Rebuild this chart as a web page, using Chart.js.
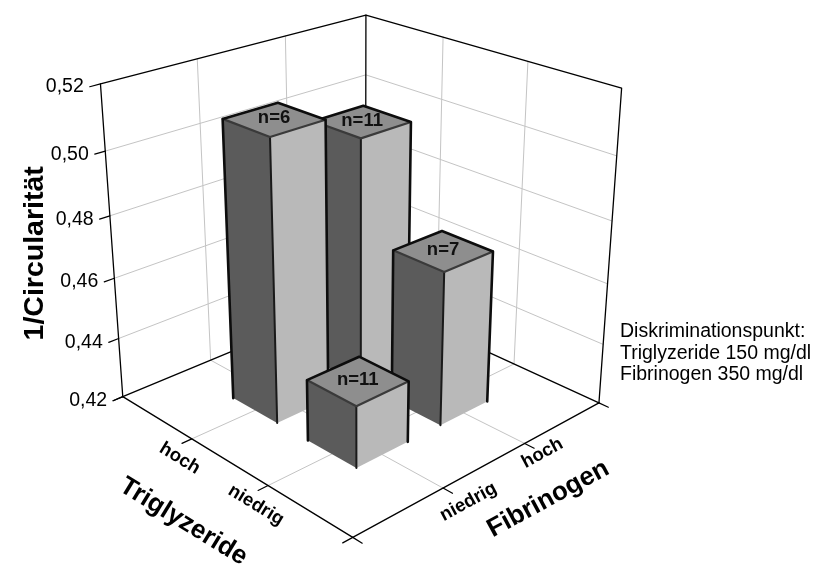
<!DOCTYPE html>
<html>
<head>
<meta charset="utf-8">
<script src="https://cdn.jsdelivr.net/npm/chart.js@4.4.1/dist/chart.umd.min.js"></script>
<style>
  html, body { margin: 0; padding: 0; background: #ffffff; }
  #chart { display: block; }
</style>
</head>
<body>
<canvas id="chart" width="816" height="566"></canvas>
<script>
// Group levels along the two floor axes
const triglyzerideLevels = ['hoch', 'niedrig'];
const fibrinogenLevels = ['niedrig', 'hoch'];

// One entry per column: its groups, mean 1/Circularität and group size
const barTriglyzeride = ['hoch', 'hoch', 'niedrig', 'niedrig'];
const barFibrinogen = ['niedrig', 'hoch', 'niedrig', 'hoch'];
const barValues = [0.510, 0.501, 0.440, 0.470];
const barCounts = [6, 11, 11, 7];

// Value axis
const valueTicks = [0.42, 0.44, 0.46, 0.48, 0.50, 0.52];
const valueTickLabels = ['0,42', '0,44', '0,46', '0,48', '0,50', '0,52'];

const valueTitle = '1/Circularität';
const triglyzerideTitle = 'Triglyzeride';
const fibrinogenTitle = 'Fibrinogen';
const noteLines = ['Diskriminationspunkt:', 'Triglyzeride 150 mg/dl', 'Fibrinogen 350 mg/dl'];

// Camera for the 3-D box: a = Triglyzeride depth (0 front .. 1 left),
// b = Fibrinogen depth (0 front .. 1 right), z = value fraction (0 floor .. 1 top)
const VIEW = { turn: 43.5, tilt: 24.2, distance: 4.43, height: 0.975, centerX: 360, centerY: 250, zoom: 352 };
const W = 816, H = 566;
const BAR_HALF = 0.1;
const TICK_LEN = 0.035;
const FONT = '"Liberation Sans", Arial, Helvetica, sans-serif';

function toCamera(a, b, z) {
  const t = VIEW.turn * Math.PI / 180, e = VIEW.tilt * Math.PI / 180;
  const X = b - 0.5, Z = a - 0.5, Y = (z - 0.5) * VIEW.height;
  const xr = X * Math.cos(t) - Z * Math.sin(t);
  const zr = X * Math.sin(t) + Z * Math.cos(t);
  const yu = Y * Math.cos(e) + zr * Math.sin(e);
  const zd = -Y * Math.sin(e) + zr * Math.cos(e);
  const f = VIEW.distance / (VIEW.distance + zd);
  return { x: xr * f, y: yu * f, depth: zd };
}

const slotA = i => 1 - (i + 1) / (triglyzerideLevels.length + 1);
const slotB = j => (j + 1) / (fibrinogenLevels.length + 1);

function pathOf(ctx, pts, close) {
  ctx.beginPath();
  ctx.moveTo(pts[0][0], pts[0][1]);
  for (let i = 1; i < pts.length; i++) ctx.lineTo(pts[i][0], pts[i][1]);
  if (close) ctx.closePath();
}
function fillPoly(ctx, pts, color) {
  pathOf(ctx, pts, true);
  ctx.fillStyle = color;
  ctx.fill();
}
function strokeLine(ctx, pts, color, width) {
  pathOf(ctx, pts, false);
  ctx.strokeStyle = color;
  ctx.lineWidth = width;
  ctx.lineJoin = 'round';
  ctx.lineCap = 'round';
  ctx.stroke();
}
function rotatedText(ctx, text, x, y, angle, font) {
  ctx.save();
  ctx.translate(x, y);
  ctx.rotate(angle);
  ctx.font = font;
  ctx.textAlign = 'center';
  ctx.textBaseline = 'middle';
  ctx.fillStyle = '#000';
  ctx.fillText(text, 0, 0);
  ctx.restore();
}

const columns3d = {
  id: 'columns3d',
  beforeDatasetsDraw(chart) {
    const ctx = chart.ctx;
    const sx = chart.scales.x, sy = chart.scales.y, sv = chart.scales.v;
    const frac = v => sv.getDecimalForPixel(sv.getPixelForValue(v));
    const P = (a, b, z) => { const c = toCamera(a, b, z); return [sx.getPixelForValue(c.x), sy.getPixelForValue(c.y)]; };
    const grid = '#c4c4c4';
    const edge = '#000000';

    ctx.save();
    // walls and floor
    fillPoly(ctx, [P(1, 0, 0), P(1, 1, 0), P(1, 1, 1), P(1, 0, 1)], '#ffffff');
    fillPoly(ctx, [P(1, 1, 0), P(0, 1, 0), P(0, 1, 1), P(1, 1, 1)], '#ffffff');
    fillPoly(ctx, [P(0, 0, 0), P(1, 0, 0), P(1, 1, 0), P(0, 1, 0)], '#ffffff');

    // value gridlines on both back walls
    valueTicks.slice(1, -1).forEach(v => {
      const z = frac(v);
      strokeLine(ctx, [P(1, 0, z), P(1, 1, z), P(0, 1, z)], grid, 1);
    });
    // category gridlines on walls and floor
    triglyzerideLevels.forEach((_, i) => {
      const a = slotA(i);
      strokeLine(ctx, [P(a, 0, 0), P(a, 1, 0), P(a, 1, 1)], grid, 1);
    });
    fibrinogenLevels.forEach((_, j) => {
      const b = slotB(j);
      strokeLine(ctx, [P(0, b, 0), P(1, b, 0), P(1, b, 1)], grid, 1);
    });

    // box edges
    strokeLine(ctx, [P(1, 0, 0), P(1, 0, 1), P(1, 1, 1), P(0, 1, 1), P(0, 1, 0)], edge, 1.3);
    strokeLine(ctx, [P(1, 1, 0), P(1, 1, 1)], edge, 1.3);
    strokeLine(ctx, [P(1, 0, 0), P(1, 1, 0), P(0, 1, 0)], edge, 1.3);
    strokeLine(ctx, [P(1, 0, 0), P(0, 0, 0), P(0, 1, 0)], edge, 1.3);

    // tick marks
    valueTicks.forEach(v => {
      const z = frac(v);
      strokeLine(ctx, [P(1, 0, z), P(1, -TICK_LEN, z)], edge, 1.2);
    });
    [0, ...triglyzerideLevels.map((_, i) => slotA(i)), 1].forEach(a => {
      strokeLine(ctx, [P(a, 0, 0), P(a, -TICK_LEN, 0)], edge, 1.2);
    });
    [0, ...fibrinogenLevels.map((_, j) => slotB(j)), 1].forEach(b => {
      strokeLine(ctx, [P(0, b, 0), P(-TICK_LEN, b, 0)], edge, 1.2);
    });

    // columns, far ones first
    const bars = barValues.map((v, k) => {
      const ac = slotA(triglyzerideLevels.indexOf(barTriglyzeride[k]));
      const bc = slotB(fibrinogenLevels.indexOf(barFibrinogen[k]));
      return { ac, bc, zt: frac(v), z0: frac(valueTicks[0]), n: barCounts[k], depth: toCamera(ac, bc, 0).depth };
    }).sort((p, q) => q.depth - p.depth);

    bars.forEach(bar => {
      const h = BAR_HALF;
      const a0 = bar.ac - h, a1 = bar.ac + h, b0 = bar.bc - h, b1 = bar.bc + h;
      const z0 = bar.z0, z1 = bar.zt;
      // left face (towards Triglyzeride axis)
      fillPoly(ctx, [P(a1, b0, z0), P(a0, b0, z0), P(a0, b0, z1), P(a1, b0, z1)], '#5b5b5b');
      // right face (towards Fibrinogen axis)
      fillPoly(ctx, [P(a0, b0, z0), P(a0, b1, z0), P(a0, b1, z1), P(a0, b0, z1)], '#b9b9b9');
      // top face
      fillPoly(ctx, [P(a1, b0, z1), P(a0, b0, z1), P(a0, b1, z1), P(a1, b1, z1)], '#8e8e8e');

      strokeLine(ctx, [P(a0, b0, z0), P(a0, b0, z1)], '#1a1a1a', 2);
      strokeLine(ctx, [P(a1, b0, z1), P(a0, b0, z1), P(a0, b1, z1)], '#3a3a3a', 2.2);
      strokeLine(ctx, [P(a1, b0, z0), P(a1, b0, z1), P(a1, b1, z1), P(a0, b1, z1), P(a0, b1, z0)], '#0d0d0d', 2.6);

      const c = P(bar.ac, bar.bc, z1);
      ctx.font = 'bold 18.5px ' + FONT;
      ctx.textAlign = 'center';
      ctx.textBaseline = 'middle';
      ctx.fillStyle = '#111';
      ctx.fillText('n=' + bar.n, c[0], c[1] - 1);
    });
    ctx.restore();
  },
  afterDatasetsDraw(chart) {
    const ctx = chart.ctx;
    const sx = chart.scales.x, sy = chart.scales.y, sv = chart.scales.v;
    const frac = v => sv.getDecimalForPixel(sv.getPixelForValue(v));
    const P = (a, b, z) => { const c = toCamera(a, b, z); return [sx.getPixelForValue(c.x), sy.getPixelForValue(c.y)]; };

    ctx.save();
    ctx.fillStyle = '#000';

    // value tick labels
    ctx.font = '19.5px ' + FONT;
    ctx.textAlign = 'right';
    ctx.textBaseline = 'middle';
    valueTicks.forEach((v, i) => {
      const p = P(1, -TICK_LEN, frac(v));
      ctx.fillText(valueTickLabels[i], p[0] - 6, p[1]);
    });

    // value axis title
    const mid = P(1, 0, 0.5);
    rotatedText(ctx, valueTitle, mid[0] - 77, mid[1] + 6, -Math.PI / 2, 'bold 28.5px ' + FONT);

    const catFont = 'bold 18.5px ' + FONT;

    // Triglyzeride axis (left corner -> front corner)
    const L = P(1, 0, 0), F = P(0, 0, 0), R = P(0, 1, 0);
    let len = Math.hypot(F[0] - L[0], F[1] - L[1]);
    let d = [(F[0] - L[0]) / len, (F[1] - L[1]) / len];
    let n = [-d[1], d[0]];
    let ang = Math.atan2(d[1], d[0]);
    triglyzerideLevels.forEach((lab, i) => {
      const t = P(slotA(i), 0, 0);
      rotatedText(ctx, lab, t[0] + n[0] * 23, t[1] + n[1] * 23, ang, catFont);
    });
    rotatedText(ctx, triglyzerideTitle, L[0] + d[0] * 117 + n[0] * 75, L[1] + d[1] * 117 + n[1] * 75, ang, 'bold 26px ' + FONT);

    // Fibrinogen axis (front corner -> right corner); each label's bounding box hangs from its tick
    len = Math.hypot(R[0] - F[0], R[1] - F[1]);
    d = [(R[0] - F[0]) / len, (R[1] - F[1]) / len];
    n = [-d[1], d[0]];
    ang = Math.atan2(d[1], d[0]);
    ctx.font = catFont;
    fibrinogenLevels.forEach((lab, j) => {
      const t = P(0, slotB(j), 0);
      const w = ctx.measureText(lab).width, th = 14;
      const c = Math.abs(Math.cos(ang)), s = Math.abs(Math.sin(ang));
      const bw = w * c + th * s, bh = w * s + th * c;
      rotatedText(ctx, lab, t[0] - 5 + bw / 2, t[1] - 7 + bh / 2, ang, catFont);
    });
    rotatedText(ctx, fibrinogenTitle, F[0] + d[0] * 190 + n[0] * 60, F[1] + d[1] * 190 + n[1] * 60, ang, 'bold 26px ' + FONT);

    // note beside the chart
    ctx.font = '19.5px ' + FONT;
    ctx.textAlign = 'left';
    ctx.textBaseline = 'middle';
    noteLines.forEach((line, i) => ctx.fillText(line, 620, 332 + i * 21.5));
    ctx.restore();
  }
};

new Chart(document.getElementById('chart').getContext('2d'), {
  type: 'scatter',
  data: { datasets: [{ label: valueTitle, data: [], pointRadius: 0 }] },
  options: {
    responsive: false,
    animation: false,
    devicePixelRatio: 1,
    events: [],
    layout: { padding: 0 },
    plugins: { legend: { display: false }, tooltip: { enabled: false }, title: { display: false } },
    scales: {
      x: { type: 'linear', display: false, min: -VIEW.centerX / VIEW.zoom, max: (W - VIEW.centerX) / VIEW.zoom },
      y: { type: 'linear', display: false, min: -(H - VIEW.centerY) / VIEW.zoom, max: VIEW.centerY / VIEW.zoom },
      v: { type: 'linear', axis: 'y', position: 'left', display: false, min: valueTicks[0], max: valueTicks[valueTicks.length - 1] }
    }
  },
  plugins: [columns3d]
});
</script>
</body>
</html>
